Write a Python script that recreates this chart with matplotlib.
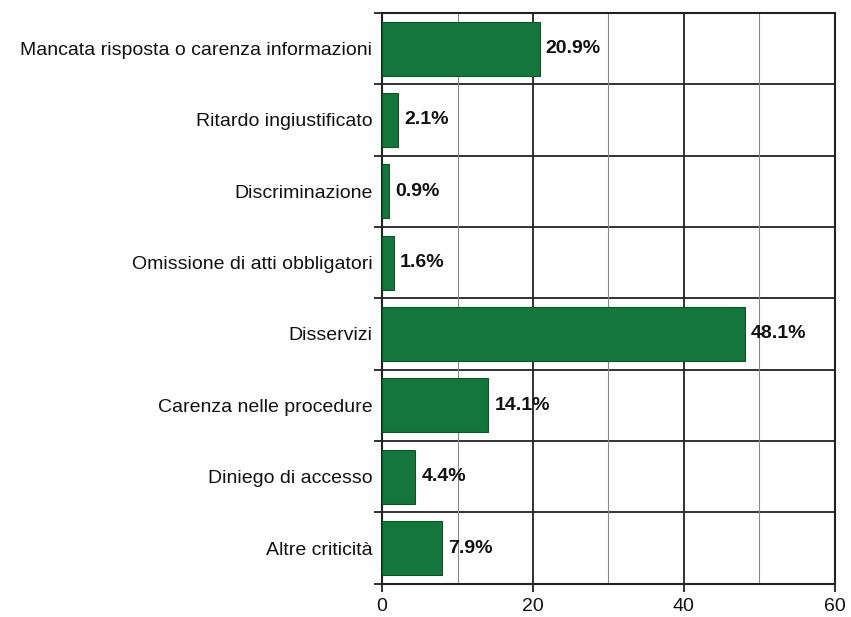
import matplotlib.pyplot as plt
from matplotlib.ticker import MultipleLocator

plt.rcParams['font.family'] = ['Liberation Sans', 'DejaVu Sans']

# Data
categories = [
    'Mancata risposta o carenza informazioni',
    'Ritardo ingiustificato',
    'Discriminazione',
    'Omissione di atti obbligatori',
    'Disservizi',
    'Carenza nelle procedure',
    'Diniego di accesso',
    'Altre criticità',
]
values = [20.9, 2.1, 0.9, 1.6, 48.1, 14.1, 4.4, 7.9]
x_ticks = [0, 20, 40, 60]

fig = plt.figure(figsize=(8.51, 6.17), dpi=100)
ax = fig.add_axes([0.449, 0.054, 0.532, 0.925])

n = len(categories)
ypos = list(range(n))

ax.barh(ypos, values, height=0.76, color='#14763a', edgecolor='#0c5526',
        linewidth=0.8, zorder=3)

for y, v in zip(ypos, values):
    ax.text(v + 0.8, y, f'{v:.1f}%', va='center', ha='left',
            fontsize=14, fontweight='bold', color='#111111', zorder=4)

ax.set_xlim(0, 60)
ax.set_ylim(n - 0.5, -0.5)

# x grid: major dark, minor light
ax.set_xticks(x_ticks)
ax.xaxis.set_minor_locator(MultipleLocator(10))
ax.grid(axis='x', which='major', color='#222222', linewidth=1.3, zorder=1)
ax.grid(axis='x', which='minor', color='#888888', linewidth=0.8, zorder=1)

# category separators
for b in range(1, n):
    ax.axhline(b - 0.5, color='#222222', linewidth=1.3, zorder=1)

# category labels as y tick labels, ticks at boundaries
ax.set_yticks(ypos)
ax.set_yticklabels(categories, fontsize=14, color='#111111')
ax.tick_params(axis='y', which='major', length=0, pad=7)
ax.set_yticks([b - 0.5 for b in range(n + 1)], minor=True)
ax.tick_params(axis='y', which='minor', length=6, width=1.3, color='#222222',
               direction='out')
ax.tick_params(axis='x', which='major', length=6, width=1.3, labelsize=14,
               pad=4, color='#222222', labelcolor='#111111')
ax.tick_params(axis='x', which='minor', length=0)

for s in ax.spines.values():
    s.set_color('#222222')
    s.set_linewidth(1.5)

fig.savefig('out.png', dpi=100, facecolor='white')
plt.close(fig)
